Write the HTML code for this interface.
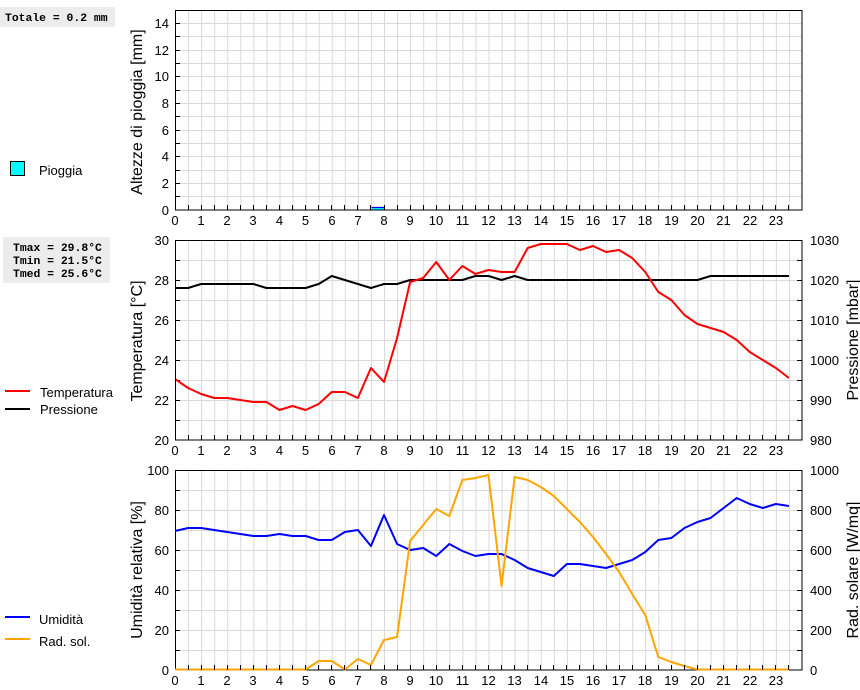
<!DOCTYPE html>
<html><head><meta charset="utf-8"><style>
html,body{margin:0;padding:0;background:#fff;}
svg{display:block;}
text{font-family:"Liberation Sans",Arial,sans-serif;fill:#000;}
.mono{font-family:"Liberation Mono",monospace;font-weight:bold;font-size:11.4px;}
.tk{font-size:13px;}
.ti{font-size:16px;}
.ln{fill:none;stroke-width:2;vector-effect:non-scaling-stroke;stroke-linejoin:round;}
</style></head><body>
<svg width="860" height="690" viewBox="0 0 860 690" xmlns="http://www.w3.org/2000/svg">
<defs>
<pattern id="vg" x="175" y="0" width="13.0625" height="690" patternUnits="userSpaceOnUse">
<line x1="0.5" y1="0" x2="0.5" y2="690" stroke="#d9d9d9" stroke-width="1"/>
</pattern>
</defs>
<!-- boxes -->
<rect x="0" y="7" width="115" height="20" fill="#ececec"/>
<text class="mono" x="5" y="21">Totale = 0.2 mm</text>
<rect x="3" y="237" width="107" height="46" fill="#ececec"/>
<text class="mono" x="13" y="251">Tmax = 29.8°C</text>
<text class="mono" x="13" y="264">Tmin = 21.5°C</text>
<text class="mono" x="13" y="277">Tmed = 25.6°C</text>

<!-- legends -->
<rect x="10.5" y="161.5" width="14" height="14" fill="#00ffff" stroke="#000" stroke-width="1"/>
<text class="tk" x="39" y="175">Pioggia</text>
<line x1="5" y1="391" x2="30" y2="391" stroke="#ff0000" stroke-width="2"/>
<text class="tk" x="40" y="397">Temperatura</text>
<line x1="5" y1="409" x2="30" y2="409" stroke="#000" stroke-width="2"/>
<text class="tk" x="40" y="414">Pressione</text>
<line x1="5" y1="617" x2="30" y2="617" stroke="#0000ff" stroke-width="2"/>
<text class="tk" x="39" y="624">Umidità</text>
<line x1="5" y1="639" x2="30" y2="639" stroke="#ffa500" stroke-width="2"/>
<text class="tk" x="39" y="646">Rad. sol.</text>

<!-- axis titles -->
<text class="ti" transform="translate(142,112) rotate(-90)" text-anchor="middle">Altezze di pioggia [mm]</text>
<text class="ti" transform="translate(142,341) rotate(-90)" text-anchor="middle">Temperatura [°C]</text>
<text class="ti" transform="translate(142,570) rotate(-90)" text-anchor="middle">Umidità relativa [%]</text>
<text class="ti" transform="translate(858,340) rotate(-90)" text-anchor="middle">Pressione [mbar]</text>
<text class="ti" transform="translate(858,570) rotate(-90)" text-anchor="middle">Rad. solare [W/mq]</text>

<!-- PANEL 1 -->
<rect x="175" y="10" width="627" height="200" fill="url(#vg)"/>
<g stroke="#d9d9d9" stroke-width="1">
<line x1="175" x2="802" y1="23.5" y2="23.5"/><line x1="175" x2="802" y1="36.5" y2="36.5"/><line x1="175" x2="802" y1="50.5" y2="50.5"/><line x1="175" x2="802" y1="63.5" y2="63.5"/><line x1="175" x2="802" y1="76.5" y2="76.5"/><line x1="175" x2="802" y1="90.5" y2="90.5"/><line x1="175" x2="802" y1="103.5" y2="103.5"/><line x1="175" x2="802" y1="116.5" y2="116.5"/><line x1="175" x2="802" y1="130.5" y2="130.5"/><line x1="175" x2="802" y1="143.5" y2="143.5"/><line x1="175" x2="802" y1="156.5" y2="156.5"/><line x1="175" x2="802" y1="170.5" y2="170.5"/><line x1="175" x2="802" y1="183.5" y2="183.5"/><line x1="175" x2="802" y1="196.5" y2="196.5"/>
</g>
<g stroke="#000" stroke-width="1">
<line x1="175" x2="180" y1="23.5" y2="23.5"/><line x1="175" x2="180" y1="36.5" y2="36.5"/><line x1="175" x2="180" y1="50.5" y2="50.5"/><line x1="175" x2="180" y1="63.5" y2="63.5"/><line x1="175" x2="180" y1="76.5" y2="76.5"/><line x1="175" x2="180" y1="90.5" y2="90.5"/><line x1="175" x2="180" y1="103.5" y2="103.5"/><line x1="175" x2="180" y1="116.5" y2="116.5"/><line x1="175" x2="180" y1="130.5" y2="130.5"/><line x1="175" x2="180" y1="143.5" y2="143.5"/><line x1="175" x2="180" y1="156.5" y2="156.5"/><line x1="175" x2="180" y1="170.5" y2="170.5"/><line x1="175" x2="180" y1="183.5" y2="183.5"/><line x1="175" x2="180" y1="196.5" y2="196.5"/>
</g>
<rect x="371.5" y="207.5" width="13.5" height="2.5" fill="#00ffff"/>
<line x1="371.5" y1="207.5" x2="385" y2="207.5" stroke="#0000ff" stroke-width="1.3"/>
<rect x="175.5" y="10.5" width="626.5" height="199.5" fill="none" stroke="#000" stroke-width="1"/>
<g class="tk" text-anchor="end">
<text x="169" y="215">0</text><text x="169" y="188">2</text><text x="169" y="161">4</text><text x="169" y="135">6</text><text x="169" y="108">8</text><text x="169" y="81">10</text><text x="169" y="55">12</text><text x="169" y="28">14</text>
</g>

<!-- PANEL 2 -->
<rect x="175" y="240" width="627" height="200" fill="url(#vg)"/>
<g stroke="#d9d9d9" stroke-width="1">
<line x1="175" x2="802" y1="260.5" y2="260.5"/><line x1="175" x2="802" y1="280.5" y2="280.5"/><line x1="175" x2="802" y1="300.5" y2="300.5"/><line x1="175" x2="802" y1="320.5" y2="320.5"/><line x1="175" x2="802" y1="340.5" y2="340.5"/><line x1="175" x2="802" y1="360.5" y2="360.5"/><line x1="175" x2="802" y1="380.5" y2="380.5"/><line x1="175" x2="802" y1="400.5" y2="400.5"/><line x1="175" x2="802" y1="420.5" y2="420.5"/>
</g>
<g stroke="#000" stroke-width="1">
<line x1="175" x2="180" y1="260.5" y2="260.5"/><line x1="175" x2="180" y1="280.5" y2="280.5"/><line x1="175" x2="180" y1="300.5" y2="300.5"/><line x1="175" x2="180" y1="320.5" y2="320.5"/><line x1="175" x2="180" y1="340.5" y2="340.5"/><line x1="175" x2="180" y1="360.5" y2="360.5"/><line x1="175" x2="180" y1="380.5" y2="380.5"/><line x1="175" x2="180" y1="400.5" y2="400.5"/><line x1="175" x2="180" y1="420.5" y2="420.5"/>
<line x1="797" x2="802" y1="260.5" y2="260.5"/><line x1="797" x2="802" y1="280.5" y2="280.5"/><line x1="797" x2="802" y1="300.5" y2="300.5"/><line x1="797" x2="802" y1="320.5" y2="320.5"/><line x1="797" x2="802" y1="340.5" y2="340.5"/><line x1="797" x2="802" y1="360.5" y2="360.5"/><line x1="797" x2="802" y1="380.5" y2="380.5"/><line x1="797" x2="802" y1="400.5" y2="400.5"/><line x1="797" x2="802" y1="420.5" y2="420.5"/>
</g>
<g transform="translate(175,0) scale(26.125,1)">
<polyline class="ln" stroke="#000" points="0,288 0.5,288 1,284 1.5,284 2,284 2.5,284 3,284 3.5,288 4,288 4.5,288 5,288 5.5,284 6,276 6.5,280 7,284 7.5,288 8,284 8.5,284 9,280 9.5,280 10,280 10.5,280 11,280 11.5,276 12,276 12.5,280 13,276 13.5,280 14,280 14.5,280 15,280 15.5,280 16,280 16.5,280 17,280 17.5,280 18,280 18.5,280 19,280 19.5,280 20,280 20.5,276 21,276 21.5,276 22,276 22.5,276 23,276 23.5,276"/>
<polyline class="ln" stroke="#ff0000" points="0,379 0.5,388 1,394 1.5,398 2,398 2.5,400 3,402 3.5,402 4,410 4.5,406 5,410 5.5,404 6,392 6.5,392 7,398 7.5,368 8,382 8.5,338 9,282 9.5,278 10,262 10.5,280 11,266 11.5,274 12,270 12.5,272 13,272 13.5,248 14,244 14.5,244 15,244 15.5,250 16,246 16.5,252 17,250 17.5,258 18,272 18.5,292 19,300 19.5,315 20,324 20.5,328 21,332 21.5,340 22,352 22.5,360 23,368 23.5,378"/>
</g>
<rect x="175.5" y="240.5" width="626.5" height="199.5" fill="none" stroke="#000" stroke-width="1"/>
<g class="tk" text-anchor="end">
<text x="169" y="445">20</text><text x="169" y="405">22</text><text x="169" y="365">24</text><text x="169" y="325">26</text><text x="169" y="285">28</text><text x="169" y="245">30</text>
</g>
<g class="tk">
<text x="810" y="445">980</text><text x="810" y="405">990</text><text x="810" y="365">1000</text><text x="810" y="325">1010</text><text x="810" y="285">1020</text><text x="810" y="245">1030</text>
</g>

<!-- PANEL 3 -->
<rect x="175" y="470" width="627" height="200" fill="url(#vg)"/>
<g stroke="#d9d9d9" stroke-width="1">
<line x1="175" x2="802" y1="490.5" y2="490.5"/><line x1="175" x2="802" y1="510.5" y2="510.5"/><line x1="175" x2="802" y1="530.5" y2="530.5"/><line x1="175" x2="802" y1="550.5" y2="550.5"/><line x1="175" x2="802" y1="570.5" y2="570.5"/><line x1="175" x2="802" y1="590.5" y2="590.5"/><line x1="175" x2="802" y1="610.5" y2="610.5"/><line x1="175" x2="802" y1="630.5" y2="630.5"/><line x1="175" x2="802" y1="650.5" y2="650.5"/>
</g>
<g stroke="#000" stroke-width="1">
<line x1="175" x2="180" y1="490.5" y2="490.5"/><line x1="175" x2="180" y1="510.5" y2="510.5"/><line x1="175" x2="180" y1="530.5" y2="530.5"/><line x1="175" x2="180" y1="550.5" y2="550.5"/><line x1="175" x2="180" y1="570.5" y2="570.5"/><line x1="175" x2="180" y1="590.5" y2="590.5"/><line x1="175" x2="180" y1="610.5" y2="610.5"/><line x1="175" x2="180" y1="630.5" y2="630.5"/><line x1="175" x2="180" y1="650.5" y2="650.5"/>
<line x1="797" x2="802" y1="490.5" y2="490.5"/><line x1="797" x2="802" y1="510.5" y2="510.5"/><line x1="797" x2="802" y1="530.5" y2="530.5"/><line x1="797" x2="802" y1="550.5" y2="550.5"/><line x1="797" x2="802" y1="570.5" y2="570.5"/><line x1="797" x2="802" y1="590.5" y2="590.5"/><line x1="797" x2="802" y1="610.5" y2="610.5"/><line x1="797" x2="802" y1="630.5" y2="630.5"/><line x1="797" x2="802" y1="650.5" y2="650.5"/>
</g>
<rect x="175.5" y="470.5" width="626.5" height="199.5" fill="none" stroke="#000" stroke-width="1"/>
<g transform="translate(175,0) scale(26.125,1)">
<polyline class="ln" stroke="#0000ff" points="0,531 0.5,528 1,528 1.5,530 2,532 2.5,534 3,536 3.5,536 4,534 4.5,536 5,536 5.5,540 6,540 6.5,532 7,530 7.5,546 8,515 8.5,544 9,550 9.5,548 10,556 10.5,544 11,551 11.5,556 12,554 12.5,554 13,560 13.5,568 14,572 14.5,576 15,564 15.5,564 16,566 16.5,568 17,564 17.5,560 18,552 18.5,540 19,538 19.5,528 20,522 20.5,518 21,508 21.5,498 22,504 22.5,508 23,504 23.5,506"/>
<polyline class="ln" stroke="#ffa500" points="0,669.5 0.5,669.5 1,669.5 1.5,669.5 2,669.5 2.5,669.5 3,669.5 3.5,669.5 4,669.5 4.5,669.5 5,669.5 5.5,661 6,661 6.5,669.5 7,659 7.5,665 8,640 8.5,637 9,541 9.5,525 10,509 10.5,516 11,480 11.5,478 12,475 12.5,586 13,477 13.5,480 14,487 14.5,496 15,509 15.5,522 16,537 16.5,554 17,572 17.5,594 18,615 18.5,657 19,662 19.5,666 20,669.5 20.5,669.5 21,669.5 21.5,669.5 22,669.5 22.5,669.5 23,669.5 23.5,669.5"/>
</g>
<g class="tk" text-anchor="end">
<text x="169" y="675">0</text><text x="169" y="635">20</text><text x="169" y="595">40</text><text x="169" y="555">60</text><text x="169" y="515">80</text><text x="169" y="475">100</text>
</g>
<g class="tk">
<text x="810" y="675">0</text><text x="810" y="635">200</text><text x="810" y="595">400</text><text x="810" y="555">600</text><text x="810" y="515">800</text><text x="810" y="475">1000</text>
</g>

<!-- bottom ticks (half hours) for all panels -->
<g stroke="#000" stroke-width="1">
<path d="M188.5,205V210M201.5,205V210M214.5,205V210M227.5,205V210M240.5,205V210M253.5,205V210M266.5,205V210M279.5,205V210M292.5,205V210M305.5,205V210M318.5,205V210M331.5,205V210M344.5,205V210M357.5,205V210M370.5,205V210M384.5,205V210M397.5,205V210M410.5,205V210M423.5,205V210M436.5,205V210M449.5,205V210M462.5,205V210M475.5,205V210M488.5,205V210M501.5,205V210M514.5,205V210M527.5,205V210M540.5,205V210M553.5,205V210M566.5,205V210M579.5,205V210M593.5,205V210M606.5,205V210M619.5,205V210M632.5,205V210M645.5,205V210M658.5,205V210M671.5,205V210M684.5,205V210M697.5,205V210M710.5,205V210M723.5,205V210M736.5,205V210M749.5,205V210M762.5,205V210M775.5,205V210M788.5,205V210"/>
<path transform="translate(0,230)" d="M188.5,205V210M201.5,205V210M214.5,205V210M227.5,205V210M240.5,205V210M253.5,205V210M266.5,205V210M279.5,205V210M292.5,205V210M305.5,205V210M318.5,205V210M331.5,205V210M344.5,205V210M357.5,205V210M370.5,205V210M384.5,205V210M397.5,205V210M410.5,205V210M423.5,205V210M436.5,205V210M449.5,205V210M462.5,205V210M475.5,205V210M488.5,205V210M501.5,205V210M514.5,205V210M527.5,205V210M540.5,205V210M553.5,205V210M566.5,205V210M579.5,205V210M593.5,205V210M606.5,205V210M619.5,205V210M632.5,205V210M645.5,205V210M658.5,205V210M671.5,205V210M684.5,205V210M697.5,205V210M710.5,205V210M723.5,205V210M736.5,205V210M749.5,205V210M762.5,205V210M775.5,205V210M788.5,205V210"/>
<path transform="translate(0,460)" d="M188.5,205V210M201.5,205V210M214.5,205V210M227.5,205V210M240.5,205V210M253.5,205V210M266.5,205V210M279.5,205V210M292.5,205V210M305.5,205V210M318.5,205V210M331.5,205V210M344.5,205V210M357.5,205V210M370.5,205V210M384.5,205V210M397.5,205V210M410.5,205V210M423.5,205V210M436.5,205V210M449.5,205V210M462.5,205V210M475.5,205V210M488.5,205V210M501.5,205V210M514.5,205V210M527.5,205V210M540.5,205V210M553.5,205V210M566.5,205V210M579.5,205V210M593.5,205V210M606.5,205V210M619.5,205V210M632.5,205V210M645.5,205V210M658.5,205V210M671.5,205V210M684.5,205V210M697.5,205V210M710.5,205V210M723.5,205V210M736.5,205V210M749.5,205V210M762.5,205V210M775.5,205V210M788.5,205V210"/>
</g>

<!-- x labels -->
<g id="xl" class="tk" text-anchor="middle">
<text x="175" y="225">0</text><text x="201" y="225">1</text><text x="227" y="225">2</text><text x="253" y="225">3</text><text x="279.5" y="225">4</text><text x="305.5" y="225">5</text><text x="332" y="225">6</text><text x="358" y="225">7</text><text x="384" y="225">8</text><text x="410" y="225">9</text><text x="436" y="225">10</text><text x="462.5" y="225">11</text><text x="488.5" y="225">12</text><text x="514.5" y="225">13</text><text x="541" y="225">14</text><text x="567" y="225">15</text><text x="593" y="225">16</text><text x="619" y="225">17</text><text x="645" y="225">18</text><text x="671.5" y="225">19</text><text x="697.5" y="225">20</text><text x="723.5" y="225">21</text><text x="750" y="225">22</text><text x="776" y="225">23</text>
</g>
<g class="tk" text-anchor="middle" transform="translate(0,230)">
<text x="175" y="225">0</text><text x="201" y="225">1</text><text x="227" y="225">2</text><text x="253" y="225">3</text><text x="279.5" y="225">4</text><text x="305.5" y="225">5</text><text x="332" y="225">6</text><text x="358" y="225">7</text><text x="384" y="225">8</text><text x="410" y="225">9</text><text x="436" y="225">10</text><text x="462.5" y="225">11</text><text x="488.5" y="225">12</text><text x="514.5" y="225">13</text><text x="541" y="225">14</text><text x="567" y="225">15</text><text x="593" y="225">16</text><text x="619" y="225">17</text><text x="645" y="225">18</text><text x="671.5" y="225">19</text><text x="697.5" y="225">20</text><text x="723.5" y="225">21</text><text x="750" y="225">22</text><text x="776" y="225">23</text>
</g>
<g class="tk" text-anchor="middle" transform="translate(0,460)">
<text x="175" y="225">0</text><text x="201" y="225">1</text><text x="227" y="225">2</text><text x="253" y="225">3</text><text x="279.5" y="225">4</text><text x="305.5" y="225">5</text><text x="332" y="225">6</text><text x="358" y="225">7</text><text x="384" y="225">8</text><text x="410" y="225">9</text><text x="436" y="225">10</text><text x="462.5" y="225">11</text><text x="488.5" y="225">12</text><text x="514.5" y="225">13</text><text x="541" y="225">14</text><text x="567" y="225">15</text><text x="593" y="225">16</text><text x="619" y="225">17</text><text x="645" y="225">18</text><text x="671.5" y="225">19</text><text x="697.5" y="225">20</text><text x="723.5" y="225">21</text><text x="750" y="225">22</text><text x="776" y="225">23</text>
</g>
</svg>
</body></html>
